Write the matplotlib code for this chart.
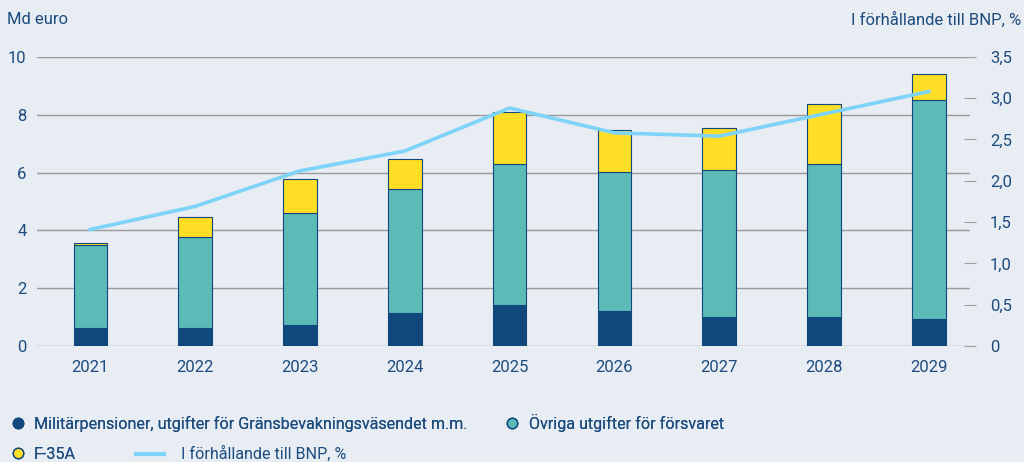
import matplotlib
matplotlib.use("Agg")
from matplotlib import pyplot as plt
from matplotlib.lines import Line2D
import numpy as np

years = ["2021", "2022", "2023", "2024", "2025", "2026", "2027", "2028", "2029"]
pensions = [0.63, 0.63, 0.72, 1.13, 1.41, 1.21, 0.99, 0.99, 0.92]
other_defence = [2.86, 3.14, 3.89, 4.31, 4.88, 4.80, 5.09, 5.30, 7.58]
f35 = [0.07, 0.69, 1.18, 1.04, 1.80, 1.45, 1.45, 2.08, 0.91]
gdp_share = [1.41, 1.69, 2.12, 2.36, 2.88, 2.58, 2.54, 2.81, 3.08]

bg = "#E8ECF3"
txt = "#1C4C7E"
c_dark = "#10487D"
c_teal = "#5CBBB7"
c_yellow = "#FFDE25"
c_line = "#7DD3F8"

plt.rcParams["font.family"] = ["Roboto", "DejaVu Sans"]
plt.rcParams["font.size"] = 12

fig = plt.figure(figsize=(10.24, 4.62), dpi=100, facecolor=bg)
ax = fig.add_axes([0.036, 0.251, 0.911, 0.626], facecolor=bg)

x = np.arange(len(years))
w = 0.32
p = np.array(pensions)
o = np.array(other_defence)
f = np.array(f35)
ax.bar(x, p, w, color=c_dark, edgecolor=c_dark, linewidth=0.8, zorder=3)
ax.bar(x, o, w, bottom=p, color=c_teal, edgecolor=c_dark, linewidth=0.8, zorder=3)
ax.bar(x, f, w, bottom=p + o, color=c_yellow, edgecolor=c_dark, linewidth=0.8, zorder=3)

ax.set_ylim(0, 10)
ax.set_xlim(-0.51, 8.39)
ax.set_yticks([0, 2, 4, 6, 8, 10])
ax.set_xticks(x)
ax.set_xticklabels(years)
ax.grid(axis="y", color="#9A9A9A", linewidth=1, zorder=0)
ax.tick_params(axis="both", length=0, colors=txt, labelsize=12)
ax.tick_params(axis="x", pad=10)
ax.tick_params(axis="y", pad=7.5)
for s in ax.spines.values():
    s.set_visible(False)

ax2 = ax.twinx()
ax2.plot(x, gdp_share, color=c_line, linewidth=2.6, zorder=4)
ax2.set_ylim(0, 3.5)
ax2.set_yticks([0, 0.5, 1, 1.5, 2, 2.5, 3, 3.5])
ax2.set_yticklabels(["0", "0,5", "1,0", "1,5", "2,0", "2,5", "3,0", "3,5"])
ax2.tick_params(axis="y", direction="inout", length=9, colors=txt, labelsize=12, pad=10)
ax2.tick_params(axis="y", color="#A0A0A0")
for s in ax2.spines.values():
    s.set_visible(False)

fig.text(0.007, 0.958, "Md euro", color=txt, fontsize=12, va="center", ha="left")
fig.text(0.997, 0.958, "I förhållande till BNP, %", color=txt, fontsize=12, va="center", ha="right")

ms = 7.5
fs = 11.6
h1 = [Line2D([], [], marker="o", linestyle="none", markersize=ms, markerfacecolor=c_dark, markeredgecolor=c_dark),
      Line2D([], [], marker="o", linestyle="none", markersize=ms, markerfacecolor=c_teal, markeredgecolor=c_dark)]
leg1 = fig.legend(h1, ["Militärpensioner, utgifter för Gränsbevakningsväsendet m.m.", "Övriga utgifter för försvaret"],
                  loc="center left", bbox_to_anchor=(-0.003, 0.085), ncol=2, frameon=False, fontsize=fs,
                  handlelength=0.8, handletextpad=0.6, columnspacing=2.4, labelcolor=txt)
fig.add_artist(leg1)
h2 = [Line2D([], [], marker="o", linestyle="none", markersize=ms, markerfacecolor=c_yellow, markeredgecolor=c_dark)]
leg2 = fig.legend(h2, ["F-35A"], loc="center left", bbox_to_anchor=(-0.003, 0.017), frameon=False, fontsize=fs,
                  handlelength=0.8, handletextpad=0.6, labelcolor=txt)
fig.add_artist(leg2)
h3 = [Line2D([], [], color=c_line, linewidth=3)]
fig.legend(h3, ["I förhållande till BNP, %"], loc="center left", bbox_to_anchor=(0.119, 0.017), frameon=False,
           fontsize=fs, handlelength=1.7, handletextpad=1.1, labelcolor=txt)

fig.savefig("out.png", dpi=100, facecolor=bg)
